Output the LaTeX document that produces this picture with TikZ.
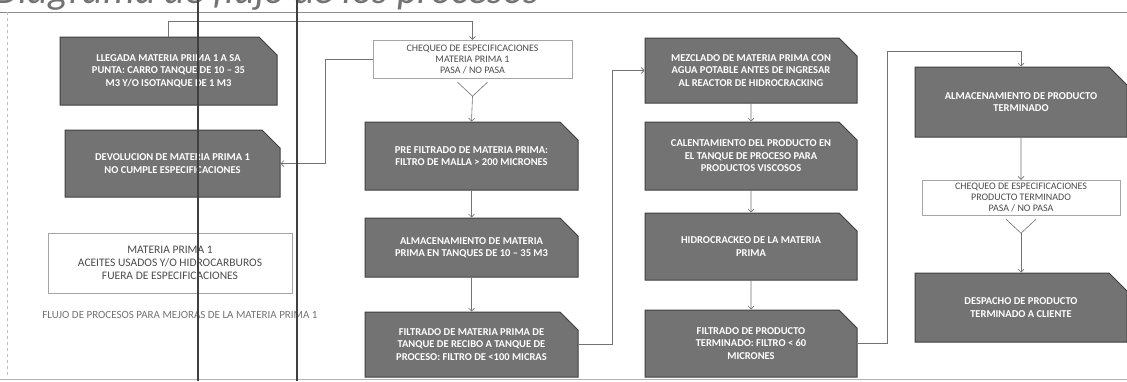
\documentclass[tikz,border=0pt]{standalone}
\usepackage{fontspec}
\setmainfont{Carlito}
\usetikzlibrary{positioning,shapes.misc,arrows.meta}

\begin{document}
\begin{tikzpicture}[x=1pt, y=-1pt, >={Straight Barb[length=3pt,width=6pt]}]
  % Estilos comunes del diagrama
  \tikzset{
    proceso/.style={
      chamfered rectangle,
      chamfered rectangle corners=north east,
      chamfered rectangle sep=9pt,
      draw=black!75, line width=1pt,
      fill=black!55,
      text=white,
      minimum width=212pt,
      minimum height=67pt,
      inner sep=2pt,
      align=center,
      font=\fontsize{10.5}{12.5}\selectfont\bfseries
    },
    chequeo/.style={
      draw=black!35, fill=white, text=black!70,
      minimum width=199pt, minimum height=38pt,
      inner sep=1pt, align=center,
      font=\fontsize{10}{11}\selectfont
    },
    linea/.style={draw=black!55, line width=0.6pt},
    flecha/.style={linea, ->}
  }

  % Fondo y marco de la hoja
  \fill[white] (0,0) rectangle (1127,381);
  \useasboundingbox (0,0) rectangle (1127,381);
  \begin{scope}
    \clip (0,0) rectangle (1127,381);
    \node[anchor=base west, inner sep=0pt, text=black!55, font=\fontsize{40}{40}\selectfont\itshape] (titulo) at (-6,3) {Diagrama de flujo de los procesos};
  \end{scope}
  \draw[black!45, line width=0.8pt] (0,12) -- (1127,12);
  \draw[black!25, dashed] (7,12) -- (7,378);
  \draw[black!30] (0,379) -- (1127,379);

  % Columna 1: recepcion de materia prima
  \node[proceso, minimum width=217pt, minimum height=68pt] (llegada) at (168.5,71) {LLEGADA MATERIA PRIMA 1 A SA\\PUNTA: CARRO TANQUE DE 10 -- 35\\M3 Y/O ISOTANQUE DE 1 M3};
  \node[proceso, minimum width=215pt] (devolucion) at (172.5,163.5) {DEVOLUCION DE MATERIA PRIMA 1\\NO CUMPLE ESPECIFICACIONES};
  \node[chequeo, minimum width=244pt, minimum height=60pt, font=\fontsize{11.5}{13}\selectfont] (materia) at (170,263) {MATERIA PRIMA 1\\ACEITES USADOS Y/O HIDROCARBUROS\\FUERA DE ESPECIFICACIONES};
  \node[text=black!55, font=\fontsize{11}{12}\selectfont] (nota) at (180,315) {FLUJO DE PROCESOS PARA MEJORAS DE LA MATERIA PRIMA 1};

  % Columna 2: chequeo y tratamiento previo
  \node[chequeo] (chequeo1) at (472.5,59) {CHEQUEO DE ESPECIFICACIONES\\MATERIA PRIMA 1\\PASA / NO PASA};
  \node[proceso, minimum width=213pt, minimum height=68pt] (prefiltrado) at (471.5,156) {PRE FILTRADO DE MATERIA PRIMA:\\FILTRO DE MALLA > 200 MICRONES};
  \node[proceso, minimum width=213pt, minimum height=59pt] (almacenMP) at (471.5,247.5) {ALMACENAMIENTO DE MATERIA\\PRIMA EN TANQUES DE 10 -- 35 M3};
  \node[proceso, minimum width=213pt, minimum height=65pt] (filtradoMP) at (471.5,344.5) {FILTRADO DE MATERIA PRIMA DE\\TANQUE DE RECIBO A TANQUE DE\\PROCESO: FILTRO DE <100 MICRAS};

  % Columna 3: hidrocracking
  \node[proceso, minimum height=65pt] (mezclado) at (751,70.5) {MEZCLADO DE MATERIA PRIMA CON\\AGUA POTABLE ANTES DE INGRESAR\\AL REACTOR DE HIDROCRACKING};
  \node[proceso, minimum height=68pt] (calentamiento) at (751,156) {CALENTAMIENTO DEL PRODUCTO EN\\EL TANQUE DE PROCESO PARA\\PRODUCTOS VISCOSOS};
  \node[proceso] (hidrocrackeo) at (751,246.5) {HIDROCRACKEO DE LA MATERIA\\PRIMA};
  \node[proceso] (filtradoPT) at (751,343.5) {FILTRADO DE PRODUCTO\\TERMINADO: FILTRO < 60\\MICRONES};

  % Columna 4: producto terminado
  \node[proceso, minimum height=70pt] (almacenPT) at (1021,102) {ALMACENAMIENTO DE PRODUCTO\\TERMINADO};
  \node[chequeo, minimum width=198pt, minimum height=35pt] (chequeo2) at (1021,197.5) {CHEQUEO DE ESPECIFICACIONES\\PRODUCTO TERMINADO\\PASA / NO PASA};
  \node[proceso, minimum height=69pt] (despacho) at (1021,307.5) {DESPACHO DE PRODUCTO\\TERMINADO A CLIENTE};

  % Conexiones columna 1 y 2
  \draw[flecha] (llegada.north) -- ++(0,-15) -| (chequeo1.north);
  \draw[flecha] (chequeo1.west) -- ++(-48,0) |- (devolucion.east);
  \draw[linea] ([xshift=-15pt,yshift=-4pt]chequeo1.south) -- ++(15,14) coordinate (union1) -- ++(15,-14);
  \draw[flecha] (union1) -- (prefiltrado.north);
  \draw[flecha] (prefiltrado) -- (almacenMP);
  \draw[flecha] (almacenMP) -- (filtradoMP);

  % Paso a la columna 3
  \draw[flecha] (filtradoMP.east) -- ++(34,0) |- (mezclado.west);
  \draw[flecha] (mezclado) -- (calentamiento);
  \draw[flecha] (calentamiento) -- (hidrocrackeo);
  \draw[flecha] (hidrocrackeo) -- (filtradoPT);

  % Paso a la columna 4
  \draw[flecha] (filtradoPT.east) -- ++(30,0) |- ([yshift=15pt]almacenPT.north) -- (almacenPT.north);
  \draw[flecha] (almacenPT) -- (chequeo2);
  \draw[linea] ([xshift=-15pt,yshift=-4pt]chequeo2.south) -- ++(15,14) coordinate (union2) -- ++(15,-14);
  \draw[flecha] (union2) -- (despacho.north);

  % Lineas verticales del escaneo
  \draw[black!75, line width=1.3pt] (198,0) -- (198,381);
  \draw[black!75, line width=1.3pt] (297,0) -- (297,381);
\end{tikzpicture}
\end{document}
